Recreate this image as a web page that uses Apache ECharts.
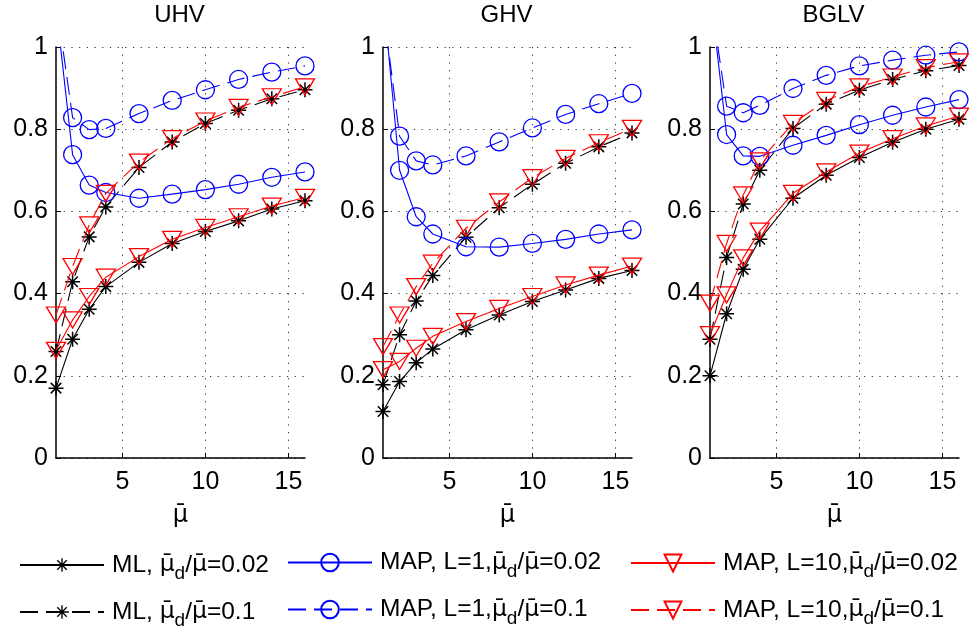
<!DOCTYPE html>
<html><head><meta charset="utf-8">
<script src="https://cdn.jsdelivr.net/npm/echarts@6/dist/echarts.min.js"></script>
<style>html,body{margin:0;padding:0;background:#fff}#c{width:969px;height:630px}</style>
</head><body><div id="c"></div>
<script>
const xValues = [1, 2, 3, 4, 6, 8, 10, 12, 14, 16];
const panelTitles = ['UHV', 'GHV', 'BGLV'];
const xTickValues = [5, 10, 15];
const xAxisName = 'μ̄';
const seriesNames = ['ML 0.02', 'ML 0.1', 'MAP1 0.02', 'MAP1 0.1', 'MAP10 0.02', 'MAP10 0.1'];
const legendLabels = [
  'ML, {m|μ̄}{d|d}/{m|μ̄}=0.02',
  'ML, {m|μ̄}{d|d}/{m|μ̄}=0.1',
  'MAP, L=1,{m|μ̄}{d|d}/{m|μ̄}=0.02',
  'MAP, L=1,{m|μ̄}{d|d}/{m|μ̄}=0.1',
  'MAP, L=10,{m|μ̄}{d|d}/{m|μ̄}=0.02',
  'MAP, L=10,{m|μ̄}{d|d}/{m|μ̄}=0.1'
];

// UHV
const uhvML002   = [0.170, 0.289, 0.362, 0.417, 0.476, 0.522, 0.551, 0.577, 0.606, 0.626];
const uhvML01    = [0.259, 0.429, 0.538, 0.611, 0.707, 0.769, 0.814, 0.846, 0.874, 0.896];
const uhvMAP1_002 = [1.100, 0.738, 0.664, 0.646, 0.632, 0.642, 0.653, 0.666, 0.683, 0.696];
const uhvMAP1_01  = [1.115, 0.828, 0.799, 0.802, 0.838, 0.870, 0.896, 0.921, 0.939, 0.954];
const uhvMAP10_002 = [0.262, 0.336, 0.393, 0.440, 0.490, 0.532, 0.561, 0.587, 0.613, 0.634];
const uhvMAP10_01  = [0.348, 0.466, 0.567, 0.644, 0.720, 0.777, 0.820, 0.853, 0.879, 0.903];
// GHV
const ghvML002   = [0.113, 0.186, 0.232, 0.265, 0.312, 0.348, 0.381, 0.409, 0.437, 0.456];
const ghvML01    = [0.178, 0.300, 0.382, 0.444, 0.537, 0.609, 0.666, 0.717, 0.757, 0.791];
const ghvMAP1_002 = [1.130, 0.700, 0.587, 0.545, 0.514, 0.513, 0.522, 0.532, 0.545, 0.555];
const ghvMAP1_01  = [1.100, 0.783, 0.723, 0.713, 0.735, 0.769, 0.803, 0.836, 0.862, 0.887];
const ghvMAP10_002 = [0.215, 0.235, 0.267, 0.296, 0.332, 0.364, 0.393, 0.421, 0.445, 0.467];
const ghvMAP10_01  = [0.271, 0.348, 0.417, 0.474, 0.559, 0.623, 0.682, 0.729, 0.767, 0.802];
// BGLV
const bglvML002   = [0.200, 0.351, 0.459, 0.532, 0.632, 0.688, 0.731, 0.768, 0.800, 0.824];
const bglvML01    = [0.289, 0.488, 0.618, 0.700, 0.802, 0.861, 0.895, 0.921, 0.942, 0.955];
const bglvMAP1_002 = [1.140, 0.787, 0.735, 0.734, 0.761, 0.785, 0.811, 0.834, 0.854, 0.872];
const bglvMAP1_01  = [1.130, 0.856, 0.840, 0.858, 0.899, 0.931, 0.954, 0.968, 0.980, 0.988];
const bglvMAP10_002 = [0.300, 0.397, 0.487, 0.552, 0.644, 0.696, 0.742, 0.777, 0.808, 0.832];
const bglvMAP10_01  = [0.377, 0.522, 0.640, 0.723, 0.814, 0.870, 0.903, 0.927, 0.950, 0.964];

const panelSeries = [
  [uhvML002, uhvML01, uhvMAP1_002, uhvMAP1_01, uhvMAP10_002, uhvMAP10_01],
  [ghvML002, ghvML01, ghvMAP1_002, ghvMAP1_01, ghvMAP10_002, ghvMAP10_01],
  [bglvML002, bglvML01, bglvMAP1_002, bglvMAP1_01, bglvMAP10_002, bglvMAP10_01]
];

const FONT = "'Liberation Sans', Arial, Helvetica, sans-serif";
const MUFONT = "'DejaVu Sans', 'Noto Sans', sans-serif";
const STAR = 'path://M0,45 L100,45 L100,55 L0,55 Z M45,0 L55,0 L55,100 L45,100 Z M18.5,11.5 L88.5,81.5 L81.5,88.5 L11.5,18.5 Z M81.5,11.5 L88.5,18.5 L18.5,88.5 L11.5,81.5 Z';
const TRI = 'path://M0,0 L20,0 L10,17 Z';
const DASH = [18, 8];

const styles = [
  { color: '#000000', symbol: STAR, size: 15, dash: false, hollow: false },
  { color: '#000000', symbol: STAR, size: 15, dash: true, hollow: false },
  { color: '#0000ff', symbol: 'circle', size: 18, dash: false, hollow: true },
  { color: '#0000ff', symbol: 'circle', size: 18, dash: true, hollow: true },
  { color: '#ff0000', symbol: TRI, size: [19, 16], dash: false, hollow: true },
  { color: '#ff0000', symbol: TRI, size: [19, 16], dash: true, hollow: true }
];

const gridLefts = [56, 383, 710];
const gridW = 249, gridTop = 47, gridH = 411;

const grids = [], xAxes = [], yAxes = [], series = [], titles = [];
for (let p = 0; p < 3; p++) {
  grids.push({ left: gridLefts[p], top: gridTop, width: gridW, height: gridH });
  titles.push({
    text: panelTitles[p], left: gridLefts[p] + gridW / 2 - 1, top: 3, textAlign: 'center', padding: 0,
    textStyle: { fontSize: 24, fontWeight: 'normal', fontFamily: FONT, color: '#000' }
  });
  xAxes.push({
    type: 'value', gridIndex: p, min: 1, max: 16,
    name: xAxisName, nameLocation: 'middle', nameGap: 46,
    nameTextStyle: { fontSize: 24, fontFamily: MUFONT, color: '#000' },
    axisLine: { show: true, lineStyle: { color: '#000', width: 1.5 } },
    axisTick: { show: true, inside: true, length: 5, customValues: xTickValues, lineStyle: { color: '#000' } },
    axisLabel: { customValues: xTickValues, fontSize: 25, fontFamily: FONT, color: '#000', margin: 12 },
    splitLine: { show: true, lineStyle: { color: '#333', type: [1.2, 6.5], width: 1 } }
  });
  yAxes.push({
    type: 'value', gridIndex: p, min: 0, max: 1, interval: 0.2,
    axisLine: { show: true, lineStyle: { color: '#000', width: 1.5 } },
    axisTick: { show: true, inside: true, length: 5, lineStyle: { color: '#000' } },
    axisLabel: { fontSize: 25, fontFamily: FONT, color: '#000', margin: 8 },
    splitLine: { show: true, lineStyle: { color: '#333', type: [1.2, 6.5], width: 1 } }
  });
  for (let s = 0; s < 6; s++) {
    const st = styles[s];
    const vals = panelSeries[p][s];
    series.push({
      name: seriesNames[s], type: 'line', xAxisIndex: p, yAxisIndex: p,
      data: xValues.map((x, i) => [x, vals[i]]),
      symbol: st.symbol, symbolSize: st.size, showAllSymbol: true, clip: true,
      lineStyle: { color: st.color, width: 1.1, type: st.dash ? DASH : 'solid' },
      itemStyle: st.hollow
        ? { color: 'rgba(0,0,0,0)', borderColor: st.color, borderWidth: 1.3 }
        : { color: st.color, borderWidth: 0 },
      emphasis: { disabled: true }, silent: true, animation: false, z: 2 + s
    });
  }
}

const legendCols = [19, 287, 630];
const legendRows = [561, 608];
const legendItemH = [17, 22, 21];
const legends = [];
for (let s = 0; s < 6; s++) {
  const col = Math.floor(s / 2), row = s % 2;
  const h = legendItemH[col];
  legends.push({
    data: [seriesNames[s]], left: legendCols[col], top: legendRows[row] - h / 2,
    padding: 0, itemWidth: 84, itemHeight: h, selectedMode: false,
    formatter: () => legendLabels[s],
    textStyle: {
      fontSize: 24.5, fontFamily: FONT, color: '#000', padding: [0, 0, 0, 3],
      rich: {
        m: { fontSize: 23.5, fontFamily: MUFONT, color: '#000' },
        d: { fontSize: 19, fontFamily: FONT, color: '#000', padding: [18, 0, 0, 0] }
      }
    }
  });
}

const chart = echarts.init(document.getElementById('c'), null, { renderer: 'canvas' });
chart.setOption({
  backgroundColor: '#fff', animation: false,
  title: titles, grid: grids, xAxis: xAxes, yAxis: yAxes, legend: legends, series: series
});
</script></body></html>
